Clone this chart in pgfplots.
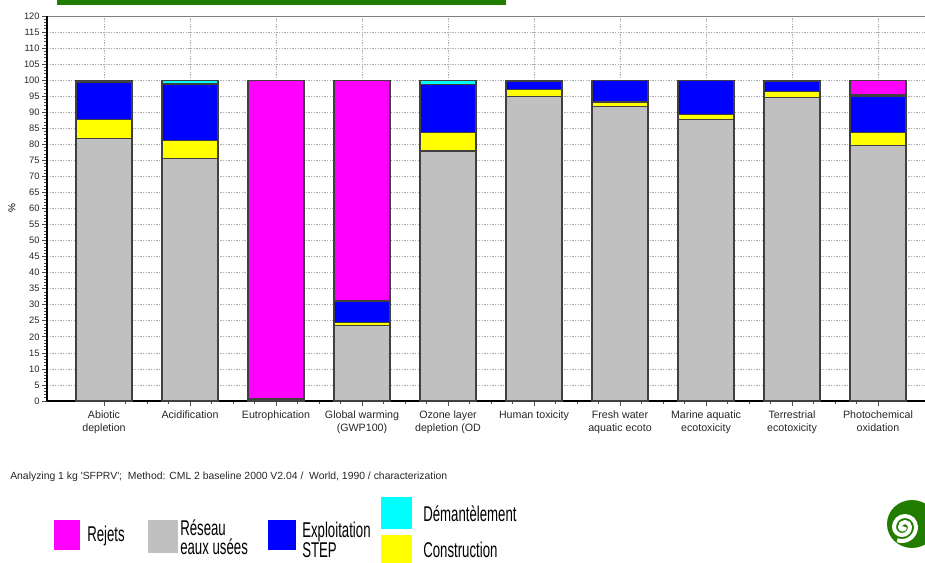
\documentclass[border=0pt]{standalone}
\usepackage{pgfplots}
\pgfplotsset{compat=1.18}
\usepackage{fontspec}
\setmainfont{Liberation Sans}
\newfontfamily\legfont[FakeStretch=0.62]{Liberation Sans}
\definecolor{crejets}{RGB}{255,0,255}
\definecolor{creseau}{RGB}{192,192,192}
\definecolor{cexpl}{RGB}{0,0,255}
\definecolor{cdem}{RGB}{0,255,255}
\definecolor{cconst}{RGB}{255,255,0}
\definecolor{clogo}{RGB}{34,124,0}
\begin{document}
\begin{tikzpicture}
\useasboundingbox (0,0) rectangle (693.75pt,422.25pt);
\begin{axis}[
  at={(35.25pt,121.5pt)}, anchor=south west,
  scale only axis, width=658.5pt, height=288.75pt,
  ybar stacked, bar width=42pt,
  xmin=-0.6628, xmax=9.5465, ymin=0, ymax=120,
  axis x line=box, axis y line=left,
  x axis line style={gray, line width=0.6pt, -},
  y axis line style={black, line width=1.5pt, -},
  tick pos=left, tick align=outside,
  major tick length=4pt, minor tick length=2pt,
  every tick/.style={black!70, line width=0.5pt},
  xtick={0,...,9},
  minor x tick num=3,
  xticklabels={Abiotic\\depletion, Acidification, Eutrophication, Global warming\\(GWP100), Ozone layer\\depletion (OD, Human toxicity, Fresh water\\aquatic ecoto, Marine aquatic\\ecotoxicity, Terrestrial\\ecotoxicity, Photochemical\\oxidation},
  xticklabel style={align=center, font=\fontsize{8}{9.75}\selectfont, text=black!85},
  ytick={0,5,...,120}, minor y tick num=4,
  yticklabel style={font=\fontsize{7}{8}\selectfont, text=black!85, xshift=2pt},
  /pgf/number format/assume math mode=true,
  xmajorgrids, ymajorgrids,
  grid style={gray!65, line width=0.5pt, dash pattern=on 1pt off 1pt},
  ylabel={\%},
  ylabel style={font=\fontsize{7.5}{8}\selectfont, at={(axis description cs:0,0.5)}, anchor=center, xshift=0pt, yshift=26.25pt},
  clip=false,
]
\addplot[fill=creseau, draw=black!75, line width=0.9pt] coordinates {(0,81.7) (1,75.6) (2,0.05) (3,23.5) (4,77.9) (5,94.9) (6,91.8) (7,87.8) (8,94.5) (9,79.6)};
\addplot[fill=cconst, draw=black!75, line width=0.9pt] coordinates {(0,6.1) (1,5.5) (2,0.4) (3,0.9) (4,5.7) (5,2.2) (6,1.4) (7,1.6) (8,2.0) (9,4.2)};
\addplot[fill=cexpl, draw=black!75, line width=0.9pt] coordinates {(0,11.6) (1,17.7) (2,0.1) (3,6.6) (4,15.1) (5,2.6) (6,6.7) (7,10.5) (8,3.2) (9,11.0)};
\addplot[fill=cdem, draw=black!75, line width=0.9pt] coordinates {(0,0.5) (1,1.0) (2,0.2) (3,0.2) (4,1.1) (5,0.2) (6,0.05) (7,0.05) (8,0.1) (9,0.6)};
\addplot[fill=crejets, draw=black!75, line width=0.9pt] coordinates {(0,0.1) (1,0.2) (2,99.25) (3,68.8) (4,0.2) (5,0.1) (6,0.05) (7,0.05) (8,0.2) (9,4.6)};
\draw[black, line width=1.5pt] (rel axis cs:0,0) -- (rel axis cs:1,0);
\end{axis}
\begin{scope}[x=0.75pt,y=-0.75pt,yshift=422.25pt]
  \fill[clogo] (57,0) rectangle (506,5);
  \node[anchor=west, font=\fontsize{7.8}{8.5}\selectfont, text=black!85, inner sep=0pt] at (10,477) {Analyzing 1 kg \textquotesingle SFPRV\textquotesingle ;\ \ Method: CML 2 baseline 2000 V2.04 /\ \ World, 1990 / characterization};
  % legend
  \fill[crejets] (54,520) rectangle (80,550);
  \fill[creseau] (148,520) rectangle (178,553);
  \fill[cexpl] (268,520) rectangle (296,550);
  \fill[cdem] (381,497) rectangle (412,529);
  \fill[cconst] (381,535) rectangle (412,565);
  \begin{scope}[every node/.style={inner sep=0pt, font=\legfont\fontsize{16}{14.25}\selectfont}]
  \node[anchor=base west] at (87,541.5) {Rejets};
  \node[anchor=west, align=left] at (180,537) {Réseau\\eaux usées};
  \node[anchor=west, align=left] at (302,540) {Exploitation\\STEP};
  \node[anchor=base west] at (423,522) {Démantèlement};
  \node[anchor=base west] at (423,558) {Construction};
  \end{scope}
  % logo
  \fill[clogo] (912,524) ellipse [x radius=25, y radius=24];
  \draw[white, line width=3] (905,527) arc[start angle=0,end angle=180,radius=2.5]
     arc[start angle=180,end angle=360,radius=5]
     arc[start angle=0,end angle=180,radius=8]
     arc[start angle=180,end angle=360,radius=11]
     arc[start angle=0,end angle=110,radius=14];
\end{scope}
\end{tikzpicture}
\end{document}
